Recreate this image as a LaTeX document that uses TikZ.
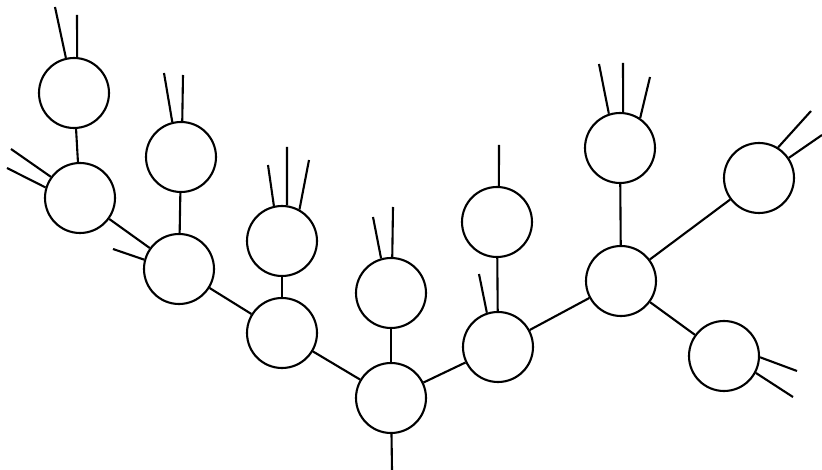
\documentclass[tikz,border=0pt]{standalone}
\begin{document}
\begin{tikzpicture}[x=1pt,y=-1pt,
  bubble/.style={circle,draw,line width=2.1pt,minimum size=70pt,inner sep=0pt},
  link/.style={line width=2.1pt},
  stub/.style={line width=2.1pt}]
\useasboundingbox[fill=white] (0,0) rectangle (822,470);

% bubbles
\node[bubble] (n1)  at (74,93)   {};
\node[bubble] (n2)  at (80,198)  {};
\node[bubble] (n3)  at (181,157) {};
\node[bubble] (n4)  at (179,269) {};
\node[bubble] (n5)  at (282,241) {};
\node[bubble] (n6)  at (282,333) {};
\node[bubble] (n7)  at (391,293) {};
\node[bubble] (n8)  at (391,398) {};
\node[bubble] (n9)  at (497,222) {};
\node[bubble] (n10) at (498,347) {};
\node[bubble] (n11) at (620,148) {};
\node[bubble] (n12) at (621,281) {};
\node[bubble] (n13) at (759,178) {};
\node[bubble] (n14) at (724,356) {};

% links between bubbles
\draw[link] (n1) -- (n2);
\draw[link] (n2) -- (n4);
\draw[link] (n3) -- (n4);
\draw[link] (n4) -- (n6);
\draw[link] (n5) -- (n6);
\draw[link] (n6) -- (n8);
\draw[link] (n7) -- (n8);
\draw[link] (n8) -- (n10);
\draw[link] (n9) -- (n10);
\draw[link] (n10) -- (n12);
\draw[link] (n11) -- (n12);
\draw[link] (n12) -- (n13);
\draw[link] (n12) -- (n14);

% free ends
\coordinate (root) at (392,470);
\coordinate (e1a) at (55,7);    \coordinate (e1b) at (77,15);
\coordinate (e2a) at (11,149);  \coordinate (e2b) at (7,168);
\coordinate (e3a) at (164,73);  \coordinate (e3b) at (183,75);
\coordinate (e4a) at (113,249);
\coordinate (e5a) at (268,165); \coordinate (e5b) at (287,147); \coordinate (e5c) at (309,160);
\coordinate (e7a) at (373,217); \coordinate (e7b) at (393,207);
\coordinate (e9a) at (499,145);
\coordinate (e10a) at (479,274);
\coordinate (e11a) at (599,64); \coordinate (e11b) at (623,63); \coordinate (e11c) at (650,77);
\coordinate (e13a) at (811,111); \coordinate (e13b) at (822,135);
\coordinate (e14a) at (797,371); \coordinate (e14b) at (793,397);

% stubs
\draw[stub] (n8) -- (root);
\draw[stub] (n1.103) -- (e1a);
\draw[stub] (n1.85)  -- (e1b);
\draw[stub] (n2.144) -- (e2a);
\draw[stub] (n2.163) -- (e2b);
\draw[stub] (n3.104) -- (e3a);
\draw[stub] (n3.88)  -- (e3b);
\draw[stub] (n4.165) -- (e4a);
\draw[stub] (n5.103) -- (e5a);
\draw[stub] (n5.82)  -- (e5b);
\draw[stub] (n5.61)  -- (e5c);
\draw[stub] (n7.106) -- (e7a);
\draw[stub] (n7.88)  -- (e7b);
\draw[stub] (n9.87)  -- (e9a);
\draw[stub] (n10.108) -- (e10a);
\draw[stub] (n11.108) -- (e11a);
\draw[stub] (n11.85)  -- (e11b);
\draw[stub] (n11.56)  -- (e11c);
\draw[stub] (n13.58)  -- (e13a);
\draw[stub] (n13.34)  -- (e13b);
\draw[stub] (n14.-2)  -- (e14a);
\draw[stub] (n14.-28) -- (e14b);
\end{tikzpicture}
\end{document}
